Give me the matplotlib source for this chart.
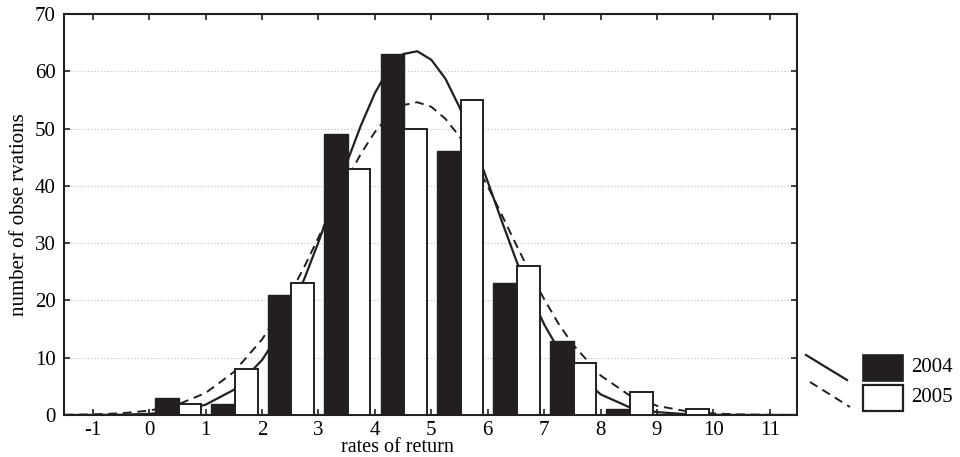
import numpy as np
import matplotlib.pyplot as plt
from matplotlib.lines import Line2D
from matplotlib.patches import Rectangle

# histogram counts per unit bin (lower bin edge)
bins = [-1, 0, 1, 2, 3, 4, 5, 6, 7, 8, 9, 10]
counts2004 = [0, 3, 2, 21, 49, 63, 46, 23, 13, 1, 0, 0]
counts2005 = [0, 2, 8, 23, 43, 50, 55, 26, 9, 4, 1, 0]

# fitted curves
curveX = [-1.5, -1, -0.5, 0, 0.5, 1, 1.5, 2, 2.25, 2.5, 2.75, 3, 3.25, 3.5, 3.75,
          4, 4.25, 4.5, 4.75, 5, 5.25, 5.5, 5.75, 6, 6.25, 6.5, 6.75, 7, 7.25,
          7.5, 8, 8.5, 9, 9.5, 10, 10.5, 11, 11.5]
curve2004 = [0.0, 0.01, 0.05, 0.2, 0.65, 1.8, 4.4, 9.6, 13.4, 18.2, 23.8, 30.2,
             37.1, 44.0, 50.5, 56.2, 60.5, 63.0, 63.5, 62.0, 58.7, 53.7, 47.5,
             40.7, 33.8, 27.1, 21.1, 15.8, 11.5, 8.1, 3.6, 1.4, 0.5, 0.15, 0.04,
             0.01, 0.0, 0.0]
curve2005 = [0.03, 0.1, 0.3, 0.76, 1.8, 3.85, 7.5, 13.2, 17.0, 21.2, 25.9, 31.0,
             36.1, 41.0, 45.6, 49.4, 52.3, 54.1, 54.6, 53.8, 51.7, 48.6, 44.5,
             39.9, 34.9, 29.8, 24.8, 20.2, 16.0, 12.4, 6.9, 3.5, 1.6, 0.7, 0.26,
             0.09, 0.03, 0.01]

xTicks = list(range(-1, 12))
yTicks = list(range(0, 80, 10))

plt.rcParams['font.family'] = ['Liberation Serif', 'DejaVu Serif']
plt.rcParams['font.size'] = 15

fig = plt.figure(figsize=(9.6, 4.57), dpi=100)
ax = fig.add_axes([64 / 960, 42 / 457, 733 / 960, 401 / 457])

dark = '#231f20'
x = np.array(bins, dtype=float)
ax.plot(curveX, curve2004, color=dark, lw=1.6, zorder=2)
ax.plot(curveX, curve2005, color=dark, lw=1.4, ls=(0, (4.5, 3)), zorder=2)
ax.bar(x + 0.31, counts2004, width=0.42, color=dark, edgecolor=dark, lw=1.0, zorder=3)
ax.bar(x + 0.72, counts2005, width=0.40, color='white', edgecolor=dark, lw=1.4, zorder=3)

ax.set_xlim(-1.51, 11.48)
ax.set_ylim(0, 70)
ax.set_xticks(xTicks)
ax.set_xticklabels([str(t) for t in xTicks])
ax.set_yticks(yTicks)
ax.tick_params(direction='in', length=4, width=1.2, top=True, right=True,
               labelsize=15, color=dark)
ax.tick_params(axis='x', pad=4)
ax.tick_params(axis='y', pad=6)
for s in ax.spines.values():
    s.set_linewidth(1.5)
    s.set_color(dark)
for yv in range(10, 70, 10):
    ax.axhline(yv, color='#bdbdbd', lw=0.8, ls=(0, (1, 2)), zorder=1)

fig.text(397.5 / 960, 1 - 452 / 457, 'rates of return', ha='center', va='baseline', fontsize=14.5)
fig.text(20 / 960, 1 - 215 / 457, 'number of obse rvations', ha='center', va='center',
         rotation=90, fontsize=15)

# legend outside the axes
def fx(px):
    return px / 960
def fy(py):
    return 1 - py / 457
fig.add_artist(Line2D([fx(806), fx(847)], [fy(355), fy(380)], color=dark, lw=1.6))
fig.add_artist(Line2D([fx(810), fx(850)], [fy(382), fy(407)], color=dark, lw=1.4, ls=(0, (4.5, 3))))
fig.add_artist(Rectangle((fx(863), fy(381)), 40 / 960, 26 / 457, facecolor=dark, edgecolor=dark, lw=1.2))
fig.add_artist(Rectangle((fx(863), fy(411)), 40 / 960, 26 / 457, facecolor='white', edgecolor=dark, lw=1.6))
fig.text(fx(911), fy(368), '2004', ha='left', va='center', fontsize=15)
fig.text(fx(911), fy(398), '2005', ha='left', va='center', fontsize=15)

fig.savefig('out.png', dpi=100)
